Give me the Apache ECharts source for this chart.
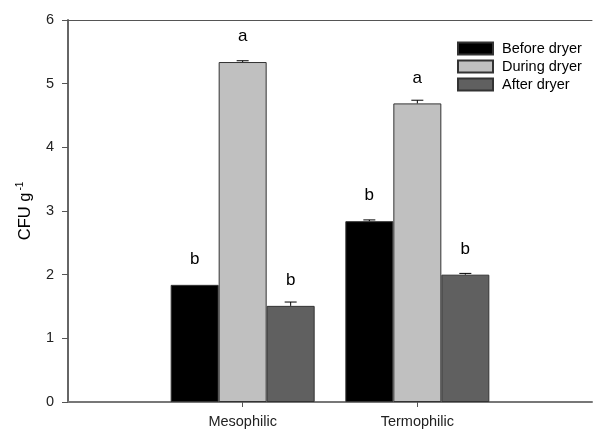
<!DOCTYPE html>
<html>
<head>
<meta charset="utf-8">
<script src="https://cdn.jsdelivr.net/npm/echarts@6/dist/echarts.min.js"></script>
<style>
  html, body { margin: 0; padding: 0; background: #fff; }
  #chart { width: 595px; height: 430px; }
</style>
</head>
<body>
<div id="chart"></div>
<script>
// categories (blank slots at both ends keep the groups at 1/3 and 2/3 of the axis)
const categories = ['', 'Mesophilic', 'Termophilic', ''];
const seriesNames = ['Before dryer', 'During dryer', 'After dryer'];

// CFU g-1 values
const beforeDryer = [null, 1.84, 2.84, null];
const duringDryer = [null, 5.34, 4.69, null];
const afterDryer = [null, 1.51, 2.00, null];

// standard errors
const beforeErr = [0, 0, 0.02, 0];
const duringErr = [0, 0.02, 0.05, 0];
const afterErr = [0, 0.06, 0.02, 0];

// significance letters
const beforeLetters = ['', 'b', 'b', ''];
const duringLetters = ['', 'a', 'a', ''];
const afterLetters = ['', 'b', 'b', ''];

const yTicks = [0, 1, 2, 3, 4, 5, 6];

const colors = ['#000000', '#c0c0c0', '#606060'];
const font = 'Arial, "Liberation Sans", sans-serif';
const barW = 48;

const values = [beforeDryer, duringDryer, afterDryer];
const errs = [beforeErr, duringErr, afterErr];
const letters = [beforeLetters, duringLetters, afterLetters];

let myChart = echarts.init(document.getElementById('chart'));

const barSeries = seriesNames.map((name, s) => ({
  name: name,
  type: 'bar',
  barWidth: barW,
  barGap: '0%',
  data: values[s],
  itemStyle: {
    color: colors[s],
    borderColor: '#333',
    borderWidth: 1
  },
  label: {
    show: true,
    position: 'top',
    distance: 17,
    fontFamily: font,
    fontSize: 17,
    color: '#000',
    formatter: (p) => letters[s][p.dataIndex]
  },
  z: 2
}));

// error bars drawn on top of the bars
const errData = [];
values.forEach((arr, s) => {
  arr.forEach((v, i) => {
    if (v != null && errs[s][i] > 0) errData.push([i, v, errs[s][i], s]);
  });
});

const errSeries = {
  type: 'custom',
  silent: true,
  z: 5,
  data: errData,
  renderItem: (params, api) => {
    const i = api.value(0), v = api.value(1), e = api.value(2), s = api.value(3);
    const base = api.coord([i, v]);
    const top = api.coord([i, v + e]);
    const x = base[0] + (s - 1) * barW;
    return {
      type: 'group',
      children: [
        { type: 'line', shape: { x1: x, y1: base[1], x2: x, y2: top[1] }, style: { stroke: '#000', lineWidth: 1 } },
        { type: 'line', shape: { x1: x - 6, y1: top[1], x2: x + 6, y2: top[1] }, style: { stroke: '#000', lineWidth: 1 } }
      ]
    };
  }
};

let option = {
  animation: false,
  backgroundColor: '#fff',
  textStyle: { fontFamily: font },
  grid: { left: 68, right: -3, top: 20, bottom: 28 },
  legend: {
    data: seriesNames,
    orient: 'vertical',
    left: 457,
    top: 40,
    padding: 0,
    itemWidth: 35,
    itemHeight: 12,
    itemGap: 1,
    icon: 'rect',
    textStyle: { fontFamily: font, fontSize: 14.5, lineHeight: 17, color: '#000', padding: [0, 0, 0, 4] }
  },
  xAxis: [{
    type: 'category',
    data: categories,
    boundaryGap: false,
    axisLine: { lineStyle: { color: '#777', width: 2 } },
    axisTick: {
      show: true,
      length: 5,
      interval: (idx) => idx === 1 || idx === 2,
      lineStyle: { color: '#555' }
    },
    axisLabel: { fontFamily: font, fontSize: 14.5, color: '#222', margin: 12 },
    splitLine: { show: false }
  }, {
    // thin frame line along the top
    type: 'category',
    position: 'top',
    data: categories,
    boundaryGap: false,
    axisLine: { lineStyle: { color: '#555', width: 1 } },
    axisTick: { show: false },
    axisLabel: { show: false }
  }],
  yAxis: {
    type: 'value',
    min: yTicks[0],
    max: yTicks[yTicks.length - 1],
    interval: 1,
    name: 'CFU g{sup|-1}',
    nameLocation: 'middle',
    nameGap: 33,
    nameRotate: 90,
    nameTextStyle: {
      fontFamily: font,
      fontSize: 16.5,
      color: '#000',
      rich: {
        sup: { fontSize: 10, verticalAlign: 'top', padding: [0, 0, 10, 2], fontFamily: font, color: '#000' }
      }
    },
    axisLine: { show: true, lineStyle: { color: '#666', width: 2 } },
    axisTick: { show: true, length: 6, lineStyle: { color: '#555' } },
    axisLabel: { fontFamily: font, fontSize: 14.5, color: '#222', margin: 14 },
    splitLine: { show: false }
  },
  series: [...barSeries, errSeries]
};

option && myChart.setOption(option);
</script>
</body>
</html>
